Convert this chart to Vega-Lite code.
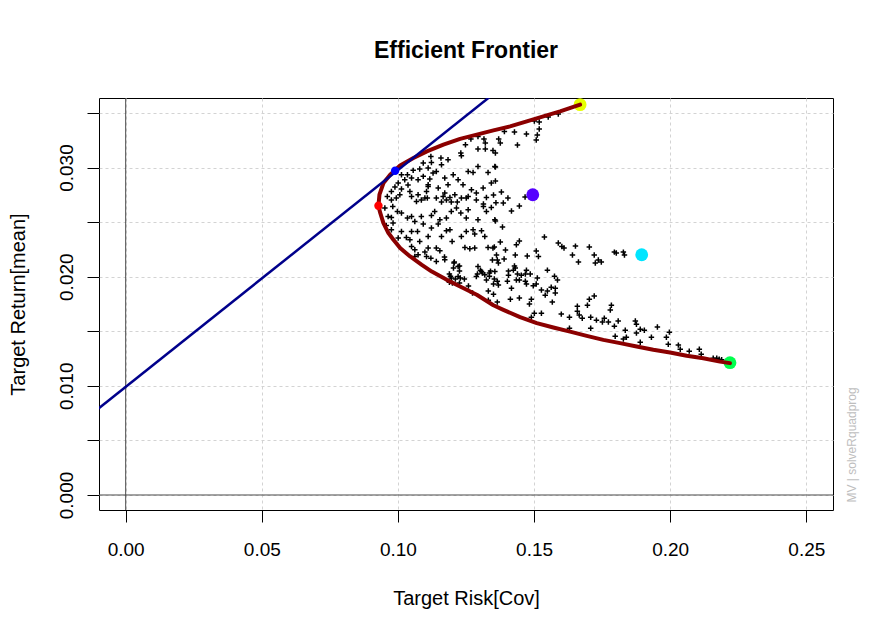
{
  "$schema": "https://vega.github.io/schema/vega-lite/v6.json",
  "width": 734,
  "height": 412,
  "autosize": {"type": "none"},
  "padding": {"left": 99, "top": 98, "right": 50, "bottom": 123},
  "background": "white",
  "title": {"text": "Efficient Frontier", "fontSize": 23, "font": "Liberation Sans", "fontWeight": "bold", "anchor": "middle", "frame": "group", "offset": 17, "baseline": "alphabetic", "color": "black"},
  "config": {"view": {"stroke": "black", "strokeWidth": 1}},
  "datasets": {
    "cloud": [
      {"r":0.1391,"m":0.03331},{"r":0.1428,"m":0.03326},{"r":0.1472,"m":0.03307},{"r":0.1370,"m":0.03262},{"r":0.1376,"m":0.03225},{"r":0.1439,"m":0.03207},{"r":0.1358,"m":0.03133},{"r":0.1358,"m":0.03005},{"r":0.1358,"m":0.02876},{"r":0.1380,"m":0.02776},{"r":0.1351,"m":0.02748},{"r":0.1404,"m":0.02721},{"r":0.1360,"m":0.02677},{"r":0.1387,"m":0.02675},{"r":0.1446,"m":0.02647},{"r":0.1417,"m":0.02601},{"r":0.1467,"m":0.02730},{"r":0.1497,"m":0.02748},{"r":0.1358,"m":0.02510},{"r":0.1384,"m":0.02455},{"r":0.1538,"m":0.02363},{"r":0.1589,"m":0.02308},{"r":0.1602,"m":0.02277},{"r":0.1610,"m":0.02262},{"r":0.1652,"m":0.02280},{"r":0.1703,"m":0.02271},{"r":0.1376,"m":0.02317},{"r":0.1435,"m":0.02292},{"r":0.1446,"m":0.02326},{"r":0.1354,"m":0.02271},{"r":0.1395,"m":0.02244},{"r":0.1362,"m":0.02198},{"r":0.1431,"m":0.02198},{"r":0.1475,"m":0.02189},{"r":0.1508,"m":0.02235},{"r":0.1516,"m":0.02185},{"r":0.1641,"m":0.02198},{"r":0.1721,"m":0.02198},{"r":0.1501,"m":0.03427},{"r":0.1519,"m":0.03418},{"r":0.1519,"m":0.03353},{"r":0.1512,"m":0.03298},{"r":0.1508,"m":0.03252},{"r":0.1552,"m":0.03463},{"r":0.1589,"m":0.03491},
      {"r":0.1736,"m":0.02152},{"r":0.1725,"m":0.02125},{"r":0.1747,"m":0.02134},{"r":0.1795,"m":0.02225},{"r":0.1802,"m":0.02216},{"r":0.1828,"m":0.02225},{"r":0.1832,"m":0.02198},{"r":0.1721,"m":0.01822},{"r":0.1784,"m":0.01739},{"r":0.1780,"m":0.01694},{"r":0.1708,"m":0.01629},{"r":0.1729,"m":0.01602},{"r":0.1758,"m":0.01620},{"r":0.1751,"m":0.01584},{"r":0.1773,"m":0.01584},{"r":0.1809,"m":0.01593},{"r":0.1795,"m":0.01547},{"r":0.1872,"m":0.01593},{"r":0.1876,"m":0.01565},{"r":0.1953,"m":0.01538},{"r":0.1835,"m":0.01510},{"r":0.1890,"m":0.01519},{"r":0.1905,"m":0.01510},{"r":0.1997,"m":0.01492},{"r":0.1708,"m":0.01528},{"r":0.1798,"m":0.01455},{"r":0.1828,"m":0.01428},{"r":0.1839,"m":0.01446},{"r":0.1876,"m":0.01483},{"r":0.1931,"m":0.01446},{"r":0.1986,"m":0.01446},{"r":0.1890,"m":0.01400},{"r":0.1993,"m":0.01382},{"r":0.2030,"m":0.01373},{"r":0.2037,"m":0.01336},{"r":0.2070,"m":0.01318},{"r":0.2107,"m":0.01336},{"r":0.2114,"m":0.01290},{"r":0.2158,"m":0.01253},{"r":0.2171,"m":0.01253},{"r":0.2180,"m":0.01244},{"r":0.2189,"m":0.01238},
      {"r":0.1171,"m":0.02180},{"r":0.1390,"m":0.02161},{"r":0.1663,"m":0.02134},{"r":0.1207,"m":0.02134},{"r":0.1226,"m":0.02097},{"r":0.1204,"m":0.02079},{"r":0.1226,"m":0.02051},{"r":0.1347,"m":0.02152},{"r":0.1365,"m":0.02152},{"r":0.1369,"m":0.02125},{"r":0.1428,"m":0.02097},{"r":0.1431,"m":0.02079},{"r":0.1424,"m":0.02060},{"r":0.1406,"m":0.02051},{"r":0.1472,"m":0.02060},{"r":0.1549,"m":0.02060},{"r":0.1303,"m":0.02060},{"r":0.1340,"m":0.02051},{"r":0.1336,"m":0.02033},{"r":0.1310,"m":0.02033},{"r":0.1292,"m":0.02024},{"r":0.1189,"m":0.02024},{"r":0.1193,"m":0.02005},{"r":0.1406,"m":0.02014},{"r":0.1439,"m":0.02024},{"r":0.1453,"m":0.02014},{"r":0.1468,"m":0.02024},{"r":0.1486,"m":0.02024},{"r":0.1354,"m":0.01978},{"r":0.1336,"m":0.02005},{"r":0.1325,"m":0.01969},{"r":0.1229,"m":0.01987},{"r":0.1244,"m":0.01978},{"r":0.1211,"m":0.01978},{"r":0.1435,"m":0.01969},{"r":0.1446,"m":0.01969},{"r":0.1512,"m":0.01987},{"r":0.1575,"m":0.02005},{"r":0.1586,"m":0.01969},{"r":0.1365,"m":0.01959},{"r":0.1351,"m":0.01932},{"r":0.1369,"m":0.01923},{"r":0.1402,"m":0.01959},{"r":0.1468,"m":0.01959},{"r":0.1472,"m":0.01932},{"r":0.1508,"m":0.01932},{"r":0.1497,"m":0.01916},{"r":0.1259,"m":0.01914},{"r":0.1226,"m":0.01941},{"r":0.1189,"m":0.01950},{"r":0.1200,"m":0.01941},{"r":0.1417,"m":0.01895},{"r":0.1563,"m":0.01904},{"r":0.1578,"m":0.01895},{"r":0.1527,"m":0.01877},{"r":0.1549,"m":0.01868},{"r":0.1578,"m":0.01850},{"r":0.1541,"m":0.01831},{"r":0.1332,"m":0.01868},{"r":0.1351,"m":0.01840},{"r":0.1274,"m":0.01850},{"r":0.1703,"m":0.01794},{"r":0.1413,"m":0.01794},{"r":0.1446,"m":0.01804},{"r":0.1490,"m":0.01794},{"r":0.1332,"m":0.01785},{"r":0.1365,"m":0.01767},{"r":0.1483,"m":0.01749},{"r":0.1567,"m":0.01767},{"r":0.1659,"m":0.01730},{"r":0.1696,"m":0.01739},{"r":0.1659,"m":0.01684},{"r":0.1666,"m":0.01648},{"r":0.1677,"m":0.01620},{"r":0.1501,"m":0.01666},{"r":0.1527,"m":0.01666},{"r":0.1600,"m":0.01657},{"r":0.1630,"m":0.01629},{"r":0.1490,"m":0.01629},{"r":0.1630,"m":0.01528},
      {"r":0.0961,"m":0.02735},{"r":0.0976,"m":0.02702},{"r":0.0994,"m":0.02720},{"r":0.1050,"m":0.02735},{"r":0.1068,"m":0.02689},{"r":0.1086,"m":0.02702},{"r":0.1108,"m":0.02720},{"r":0.1141,"m":0.02720},{"r":0.1160,"m":0.02684},{"r":0.1178,"m":0.02702},{"r":0.1191,"m":0.02726},{"r":0.1196,"m":0.02684},{"r":0.1218,"m":0.02684},{"r":0.1251,"m":0.02720},{"r":0.1288,"m":0.02702},{"r":0.1325,"m":0.02726},{"r":0.1314,"m":0.02666},{"r":0.0952,"m":0.02629},{"r":0.0981,"m":0.02643},{"r":0.0998,"m":0.02598},{"r":0.0964,"m":0.02552},{"r":0.0976,"m":0.02543},{"r":0.1013,"m":0.02583},{"r":0.1035,"m":0.02537},{"r":0.1050,"m":0.02552},{"r":0.1062,"m":0.02506},{"r":0.1086,"m":0.02552},{"r":0.1123,"m":0.02561},{"r":0.1135,"m":0.02598},{"r":0.1154,"m":0.02522},{"r":0.1178,"m":0.02537},{"r":0.1196,"m":0.02598},{"r":0.1215,"m":0.02629},{"r":0.1231,"m":0.02583},{"r":0.1258,"m":0.02613},{"r":0.1251,"m":0.02537},{"r":0.1294,"m":0.02522},{"r":0.1325,"m":0.02598},{"r":0.1314,"m":0.02643},{"r":0.1356,"m":0.02522},{"r":0.1343,"m":0.02634},{"r":0.0957,"m":0.02469},{"r":0.0976,"m":0.02430},{"r":0.0982,"m":0.02491},{"r":0.1001,"m":0.02354},{"r":0.1013,"m":0.02414},{"r":0.1031,"m":0.02359},{"r":0.1044,"m":0.02338},{"r":0.1050,"m":0.02414},{"r":0.1072,"m":0.02414},{"r":0.1080,"m":0.02323},{"r":0.1093,"m":0.02482},{"r":0.1111,"m":0.02368},{"r":0.1123,"m":0.02445},{"r":0.1148,"m":0.02482},{"r":0.1160,"m":0.02368},{"r":0.1178,"m":0.02421},{"r":0.1191,"m":0.02430},{"r":0.1199,"m":0.02323},{"r":0.1233,"m":0.02368},{"r":0.1251,"m":0.02414},{"r":0.1276,"m":0.02430},{"r":0.1282,"m":0.02390},{"r":0.1307,"m":0.02421},{"r":0.1319,"m":0.02368},{"r":0.1246,"m":0.02268},{"r":0.1264,"m":0.02256},{"r":0.1282,"m":0.02262},{"r":0.1331,"m":0.02268},{"r":0.1349,"m":0.02262},{"r":0.1050,"m":0.02277},{"r":0.1062,"m":0.02246},{"r":0.1099,"m":0.02225},{"r":0.1111,"m":0.02262},{"r":0.1141,"m":0.02262},{"r":0.1154,"m":0.02237},{"r":0.1062,"m":0.02185},{"r":0.1074,"m":0.02201},{"r":0.1105,"m":0.02185},{"r":0.1121,"m":0.02170},{"r":0.1141,"m":0.02139},{"r":0.1172,"m":0.02155},{"r":0.1206,"m":0.02125},{"r":0.1221,"m":0.02093},{"r":0.1221,"m":0.02002},{"r":0.1196,"m":0.01987},{"r":0.1294,"m":0.02093},{"r":0.1307,"m":0.02047},{"r":0.1288,"m":0.02002},{"r":0.1319,"m":0.02017},{"r":0.1356,"m":0.02047},
      {"r":0.1248,"m":0.03209},{"r":0.1294,"m":0.03285},{"r":0.1316,"m":0.03261},{"r":0.1321,"m":0.03225},{"r":0.1321,"m":0.03170},{"r":0.1349,"m":0.03157},{"r":0.1294,"m":0.03170},{"r":0.1268,"m":0.03261},{"r":0.1231,"m":0.03133},{"r":0.1233,"m":0.03108},{"r":0.1184,"m":0.03072},{"r":0.1158,"m":0.03087},{"r":0.1121,"m":0.03102},{"r":0.1123,"m":0.03047},{"r":0.1160,"m":0.03026},{"r":0.1093,"m":0.03041},{"r":0.1111,"m":0.02996},{"r":0.1080,"m":0.02986},{"r":0.1056,"m":0.02974},{"r":0.1035,"m":0.02934},{"r":0.1050,"m":0.02904},{"r":0.1025,"m":0.02888},{"r":0.1013,"m":0.02934},{"r":0.1001,"m":0.02858},{"r":0.0989,"m":0.02821},{"r":0.0976,"m":0.02781},{"r":0.1013,"m":0.02803},{"r":0.1037,"m":0.02840},{"r":0.1044,"m":0.02781},{"r":0.1074,"m":0.02888},{"r":0.1093,"m":0.02919},{"r":0.1117,"m":0.02895},{"r":0.1111,"m":0.02827},{"r":0.1105,"m":0.02781},{"r":0.1129,"m":0.02950},{"r":0.1141,"m":0.02964},{"r":0.1172,"m":0.02904},{"r":0.1184,"m":0.02843},{"r":0.1203,"m":0.02934},{"r":0.1221,"m":0.02888},{"r":0.1258,"m":0.02964},{"r":0.1276,"m":0.02955},{"r":0.1294,"m":0.03010},{"r":0.1331,"m":0.02955},{"r":0.1356,"m":0.03010},{"r":0.1239,"m":0.02843},{"r":0.1270,"m":0.02797},{"r":0.1288,"m":0.02766},{"r":0.1313,"m":0.02812},{"r":0.1343,"m":0.02858},{"r":0.1148,"m":0.02812},{"r":0.1172,"m":0.02766},{"r":0.1209,"m":0.02751},{"r":0.1074,"m":0.02751},{"r":0.1007,"m":0.02751},{"r":0.1233,"m":0.02720},{"r":0.1258,"m":0.02735},{"r":0.1166,"m":0.02735},{"r":0.1099,"m":0.02720},{"r":0.1111,"m":0.02843}
    ],
    "frontier": [
      {"o":1,"r":0.16690,"m":0.03576},{"o":2,"r":0.15955,"m":0.03515},{"o":3,"r":0.15341,"m":0.03469},{"o":4,"r":0.14732,"m":0.03423},{"o":5,"r":0.14119,"m":0.03377},{"o":6,"r":0.13506,"m":0.03340},{"o":7,"r":0.12896,"m":0.03301},{"o":8,"r":0.12283,"m":0.03262},{"o":9,"r":0.11670,"m":0.03209},{"o":10,"r":0.11061,"m":0.03148},{"o":11,"r":0.10569,"m":0.03087},{"o":12,"r":0.10081,"m":0.03019},{"o":13,"r":0.09714,"m":0.02934},{"o":14,"r":0.09468,"m":0.02858},{"o":15,"r":0.09321,"m":0.02751},{"o":16,"r":0.09284,"m":0.02650},{"o":17,"r":0.09347,"m":0.02586},{"o":18,"r":0.09468,"m":0.02491},{"o":19,"r":0.09651,"m":0.02400},{"o":20,"r":0.09835,"m":0.02338},{"o":21,"r":0.10081,"m":0.02262},{"o":22,"r":0.10448,"m":0.02185},{"o":23,"r":0.10877,"m":0.02109},{"o":24,"r":0.11244,"m":0.02047},{"o":25,"r":0.11795,"m":0.01971},{"o":26,"r":0.12283,"m":0.01910},{"o":27,"r":0.12896,"m":0.01834},{"o":28,"r":0.13506,"m":0.01738},{"o":29,"r":0.13873,"m":0.01696},{"o":30,"r":0.14486,"m":0.01629},{"o":31,"r":0.15099,"m":0.01574},{"o":32,"r":0.15708,"m":0.01534},{"o":33,"r":0.16322,"m":0.01497},{"o":34,"r":0.16935,"m":0.01458},{"o":35,"r":0.17544,"m":0.01421},{"o":36,"r":0.18157,"m":0.01391},{"o":37,"r":0.18770,"m":0.01360},{"o":38,"r":0.19380,"m":0.01330},{"o":39,"r":0.19993,"m":0.01305},{"o":40,"r":0.20606,"m":0.01275},{"o":41,"r":0.21215,"m":0.01253},{"o":42,"r":0.21828,"m":0.01222},{"o":43,"r":0.22195,"m":0.01208}
    ],
    "big": [
      {"p":"Max Return","r":0.16690,"m":0.03576},
      {"p":"Equal Weights","r":0.14952,"m":0.02751},
      {"p":"Asset 3","r":0.18954,"m":0.02201},
      {"p":"Min Return","r":0.22196,"m":0.01212}
    ],
    "small": [
      {"p":"Min Variance","r":0.09284,"m":0.02650},
      {"p":"Tangency","r":0.09897,"m":0.02971}
    ],
    "tangent": [
      {"r":-0.02,"m":0.005926},
      {"r":0.2,"m":0.04964}
    ]
  },
  "layer": [
    {
      "data": {"name": "cloud"},
      "mark": {"type": "point", "shape": "M-1,0L1,0M0,-1L0,1", "size": 30, "filled": false, "color": "black", "strokeWidth": 1.5, "opacity": 1},
      "encoding": {
        "x": {"field": "r", "type": "quantitative", "scale": {"domain": [-0.0098, 0.2598], "nice": false, "zero": false},
          "axis": {"values": [0, 0.05, 0.1, 0.15, 0.2, 0.25], "format": ".2f", "title": "Target Risk[Cov]", "titleX": 367, "titleY": 88, "titleBaseline": "middle", "titleAlign": "center", "titleFontWeight": "normal", "titleFontSize": 20, "titleFont": "Liberation Sans", "titleColor": "black", "labelFont": "Liberation Sans", "labelFontSize": 19, "labelColor": "black", "labelBaseline": "middle", "labelPadding": 27, "labelFlush": false, "labelOverlap": false, "tickSize": 12, "tickColor": "black", "domain": false, "grid": true, "gridColor": "#D3D3D3", "gridDash": [3, 3]}},
        "y": {"field": "m", "type": "quantitative", "scale": {"domain": [-0.001375, 0.03637], "nice": false, "zero": false},
          "axis": {"values": [0, 0.005, 0.01, 0.015, 0.02, 0.025, 0.03, 0.035], "labelExpr": "abs(round(datum.value*1000) % 10) == 0 ? format(datum.value, '.3f') : ''", "title": "Target Return[mean]", "titleX": -81, "titleY": 206, "titleAngle": 270, "titleBaseline": "middle", "titleAlign": "center", "titleFontWeight": "normal", "titleFontSize": 20, "titleFont": "Liberation Sans", "titleColor": "black", "labelFont": "Liberation Sans", "labelFontSize": 19, "labelColor": "black", "labelAngle": 270, "labelAlign": "center", "labelBaseline": "middle", "labelPadding": 21, "labelFlush": false, "labelOverlap": false, "tickSize": 12, "tickColor": "black", "domain": false, "grid": true, "gridColor": "#D3D3D3", "gridDash": [3, 3]}}
      }
    },
    {
      "data": {"values": [{"r": 0}]},
      "mark": {"type": "rule", "color": "#4A4A4A", "strokeWidth": 1},
      "encoding": {
        "x": {"field": "r", "type": "quantitative", "scale": {"domain": [-0.0098, 0.2598], "nice": false, "zero": false}}
      }
    },
    {
      "data": {"values": [{"m": 0}]},
      "mark": {"type": "rule", "color": "#4A4A4A", "strokeWidth": 1},
      "encoding": {
        "y": {"field": "m", "type": "quantitative", "scale": {"domain": [-0.001375, 0.03637], "nice": false, "zero": false},
          "axis": {"orient": "right", "labels": false, "ticks": false, "domain": false, "grid": false, "title": "MV | solveRquadprog", "titleX": 18, "titleY": 404, "titleAngle": 270, "titleAlign": "left", "titleBaseline": "middle", "titleFontSize": 12, "titleFontWeight": "normal", "titleFont": "Liberation Sans", "titleColor": "#BEBEBE"}}
      }
    },
    {
      "data": {"name": "big"},
      "mark": {"type": "point", "shape": "circle", "filled": true, "size": 165, "opacity": 1},
      "encoding": {
        "x": {"field": "r", "type": "quantitative", "scale": {"domain": [-0.0098, 0.2598], "nice": false, "zero": false}},
        "y": {"field": "m", "type": "quantitative", "scale": {"domain": [-0.001375, 0.03637], "nice": false, "zero": false}, "axis": null},
        "color": {"field": "p", "type": "nominal", "scale": {"domain": ["Max Return", "Equal Weights", "Asset 3", "Min Return", "Min Variance", "Tangency"], "range": ["#E6FF00", "#5500FF", "#00E5FF", "#00FF4D", "#FF0000", "#0000FF"]}, "legend": null}
      }
    },
    {
      "data": {"name": "frontier"},
      "mark": {"type": "line", "color": "#8B0000", "strokeWidth": 4, "strokeJoin": "round", "strokeCap": "round"},
      "encoding": {
        "x": {"field": "r", "type": "quantitative", "scale": {"domain": [-0.0098, 0.2598], "nice": false, "zero": false}},
        "y": {"field": "m", "type": "quantitative", "scale": {"domain": [-0.001375, 0.03637], "nice": false, "zero": false}, "axis": null},
        "order": {"field": "o", "type": "quantitative"}
      }
    },
    {
      "data": {"name": "tangent"},
      "mark": {"type": "line", "color": "#00008B", "strokeWidth": 2.5, "clip": true},
      "encoding": {
        "x": {"field": "r", "type": "quantitative", "scale": {"domain": [-0.0098, 0.2598], "nice": false, "zero": false}},
        "y": {"field": "m", "type": "quantitative", "scale": {"domain": [-0.001375, 0.03637], "nice": false, "zero": false}, "axis": null}
      }
    },
    {
      "data": {"name": "small"},
      "mark": {"type": "point", "shape": "circle", "filled": true, "size": 70, "opacity": 1},
      "encoding": {
        "x": {"field": "r", "type": "quantitative", "scale": {"domain": [-0.0098, 0.2598], "nice": false, "zero": false}},
        "y": {"field": "m", "type": "quantitative", "scale": {"domain": [-0.001375, 0.03637], "nice": false, "zero": false}, "axis": null},
        "color": {"field": "p", "type": "nominal", "scale": {"domain": ["Max Return", "Equal Weights", "Asset 3", "Min Return", "Min Variance", "Tangency"], "range": ["#E6FF00", "#5500FF", "#00E5FF", "#00FF4D", "#FF0000", "#0000FF"]}, "legend": null}
      }
    }
  ],
  "resolve": {"axis": {"y": "independent"}}
}
